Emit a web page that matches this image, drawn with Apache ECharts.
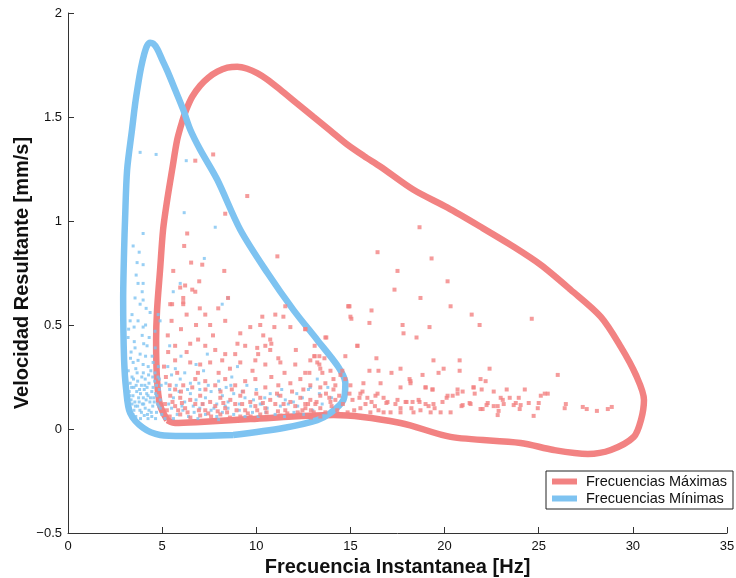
<!DOCTYPE html>
<html><head><meta charset="utf-8">
<script src="https://cdn.jsdelivr.net/npm/echarts@6/dist/echarts.min.js"></script>
<style>html,body{margin:0;padding:0;background:#fff}#c{width:736px;height:578px}</style>
</head><body><div id="c"></div>
<script>
const xTicks = [0,5,10,15,20,25,30,35];
const yTicks = [-0.5,0,0.5,1,1.5,2];
const seriesNames = ['Frecuencias Máximas','Frecuencias Mínimas'];

const maxCurve = [[5.27,0.043],[4.89,0.115],[4.73,0.236],[4.68,0.428],[4.73,0.573],[4.89,0.765],[5.05,0.958],[5.27,1.102],[5.53,1.246],[5.80,1.391],[6.06,1.477],[6.28,1.535],[6.60,1.598],[7.02,1.651],[7.45,1.689],[7.93,1.718],[8.46,1.737],[8.99,1.742],[9.52,1.732],[10.05,1.711],[10.59,1.680],[11.28,1.631],[12.15,1.566],[13.03,1.501],[13.94,1.434],[14.84,1.367],[15.72,1.312],[16.60,1.261],[18.35,1.150],[20.16,1.064],[21.91,0.972],[23.67,0.876],[25.11,0.789],[26.70,0.669],[28.30,0.539],[29.36,0.395],[30.16,0.260],[30.59,0.140],[30.43,0.043],[30.05,-0.038],[28.83,-0.101],[27.61,-0.120],[25.80,-0.101],[24.04,-0.067],[20.32,-0.038],[17.66,0.029],[14.10,0.067],[9.68,0.048],[7.02,0.034],[5.69,0.029],[5.27,0.043]];

const minCurve = [[8.78,-0.029],[6.12,-0.034],[4.89,-0.029],[3.99,0.005],[3.30,0.077],[3.09,0.188],[2.98,0.332],[2.93,0.621],[2.98,0.861],[3.03,1.006],[3.14,1.246],[3.40,1.439],[3.56,1.559],[3.72,1.655],[3.88,1.737],[4.04,1.800],[4.20,1.843],[4.36,1.857],[4.52,1.853],[4.73,1.829],[5.0,1.776],[5.27,1.723],[5.69,1.631],[6.12,1.535],[6.49,1.44],[7.02,1.343],[7.93,1.198],[9.15,0.958],[10.59,0.751],[11.97,0.573],[13.24,0.428],[14.36,0.298],[14.73,0.221],[14.63,0.140],[13.94,0.077],[13.24,0.043],[11.44,0.005],[8.78,-0.029]];

const maxPoints = [[6.76,1.29],[7.71,1.32],[9.52,1.12],[8.35,1.035],[6.33,0.94],[6.17,0.88],[11.12,0.83],[7.13,0.79],[6.54,0.80],[8.30,0.76],[5.59,0.76],[6.97,0.71],[5.96,0.68],[6.22,0.69],[6.60,0.67],[6.76,0.66],[6.12,0.63],[6.12,0.60],[5.53,0.60],[7.98,0.58],[8.50,0.63],[14.9,0.59],
[18.67,0.97],[16.44,0.85],[19.31,0.82],[17.5,0.76],[20.16,0.71],[17.34,0.67],[18.72,0.63],[14.95,0.59],[16.12,0.57],[20.32,0.59],[15.05,0.53],[21.44,0.55],[16.01,0.51],[17.77,0.50],[19.2,0.49],[21.86,0.50],[24.63,0.53],[17.82,0.46],[18.51,0.44],[13.72,0.44],[12.6,0.48],[15.37,0.40],[16.38,0.34],[14.73,0.35],[19.41,0.33],[20.8,0.33],[19.95,0.29],[19.68,0.27],[20.8,0.28],[22.39,0.29],[26.01,0.26],[16.01,0.28],[16.49,0.28],[17.18,0.27],[17.66,0.29],[18.83,0.26],[18.14,0.24],[18.19,0.22],[21.91,0.24],[22.18,0.23],[21.54,0.20],[21.6,0.17],[22.61,0.18],[21.97,0.19],[23.3,0.19],[24.26,0.19],[25.32,0.17],[20.69,0.19],[20.96,0.18],[20.43,0.16],[20.11,0.15],[19.36,0.19],[18.99,0.20],[22.98,0.15],[23.09,0.14],[23.46,0.15],[23.94,0.15],[24.47,0.125],[25.0,0.125],[23.78,0.125],[22.23,0.115],[21.33,0.125],[20.9,0.11],[22.61,0.11],[22.87,0.087],[21.91,0.096],[23.99,0.096],[24.95,0.10],[24.73,0.063],[22.82,0.067],[26.44,0.12],[26.38,0.10],[27.34,0.106],[27.55,0.096],[28.09,0.087],[28.67,0.096],[28.88,0.106],
[13.09,0.35],[13.35,0.35],[12.82,0.27],[13.24,0.32],[13.51,0.27],[13.67,0.22],[14.10,0.19],[13.88,0.15],[14.20,0.14],[14.73,0.24],[14.95,0.17],[15.11,0.14],[15.48,0.15],[15.64,0.18],[15.90,0.15],[16.12,0.13],[16.44,0.17],[16.76,0.15],[16.97,0.13],[17.39,0.12],[17.66,0.10],[17.98,0.13],[18.24,0.10],[18.67,0.13],[19.15,0.11],[19.47,0.10],[19.89,0.13],[20.32,0.08],[16.49,0.09],[17.13,0.08],[16.06,0.08],[15.53,0.10],
[15.69,0.22],[16.60,0.22],[17.66,0.20],[18.19,0.23],[18.99,0.20],[19.36,0.19],[20.16,0.16],[20.69,0.17],[21.54,0.20],[25.11,0.16],[15.53,0.17],[16.33,0.16],[16.91,0.125],[17.50,0.14],[17.93,0.13],[18.30,0.13],[18.62,0.14],[18.99,0.12],[19.41,0.12],[19.79,0.08],[20.96,0.115],[21.38,0.12],[22.02,0.096],[22.29,0.125],[22.82,0.11],[23.14,0.12],[23.67,0.115],[24.04,0.115],[25.48,0.17],[16.76,0.08],[17.66,0.08],[18.35,0.08],[18.72,0.09],[19.26,0.08],
[13.40,0.10],[13.67,0.08],[14.00,0.11],[14.30,0.09],[14.60,0.12],[14.85,0.08],[13.20,0.13],[12.90,0.09],[12.60,0.12],[12.20,0.08],[15.2,0.09],[15.8,0.12],[16.3,0.11],[14.4,0.16],[15.0,0.21],
[5.43,0.60],[6.12,0.61],[7.29,0.55],[7.55,0.50],[8.35,0.52],[9.15,0.46],[9.68,0.49],[10.21,0.50],[11.01,0.55],[11.44,0.54],[11.81,0.49],[10.74,0.43],[10.48,0.40],[10.74,0.38],[9.41,0.40],[8.88,0.36],[8.35,0.36],[7.82,0.38],[7.29,0.40],[6.91,0.43],[6.49,0.41],[5.69,0.40],[5.32,0.37],[5.69,0.33],[6.49,0.32],[7.02,0.31],[7.55,0.32],[8.19,0.33],[9.15,0.32],[9.95,0.33],[10.48,0.31],[11.28,0.32],[12.07,0.31],[12.87,0.33],[13.40,0.29],[13.94,0.28],[14.47,0.26],[14.20,0.21],[13.40,0.20],[12.87,0.21],[12.34,0.24],[11.81,0.22],[11.17,0.21],[10.48,0.20],[9.95,0.24],[9.41,0.23],[8.88,0.21],[8.35,0.24],[7.82,0.21],[7.29,0.23],[6.76,0.24],[6.12,0.21],[5.69,0.19],[5.43,0.16],
[5.96,0.15],[6.49,0.14],[7.02,0.16],[7.55,0.13],[8.09,0.15],[8.62,0.14],[9.15,0.16],[9.68,0.13],[10.21,0.15],[10.74,0.14],[11.28,0.16],[11.81,0.13],[12.34,0.15],[12.87,0.14],[13.40,0.16],[13.94,0.13],
[5.69,0.11],[6.22,0.10],[6.76,0.12],[7.29,0.09],[7.82,0.11],[8.35,0.10],[8.88,0.12],[9.41,0.09],[9.95,0.11],[10.48,0.10],[11.01,0.12],[11.54,0.09],[12.07,0.11],[12.61,0.10],[13.14,0.12],
[5.96,0.07],[7.02,0.065],[8.09,0.07],[9.15,0.06],[10.21,0.07],[11.28,0.065],[12.34,0.07],[13.40,0.06],[14.47,0.07],[5.4,0.06],[6.5,0.055],[7.6,0.06],[8.6,0.055],[9.7,0.06],[10.7,0.055],[11.8,0.06],[12.9,0.055],
[5.2,0.25],[5.3,0.45],[5.5,0.52],[6.0,0.48],[6.3,0.55],[6.8,0.50],[7.0,0.58],[7.7,0.45],[8.0,0.27],[8.6,0.29],[9.0,0.41],[9.8,0.28],[10.1,0.36],[11.5,0.27],[12.1,0.38],[12.6,0.27],[13.1,0.40],[5.1,0.30],[5.8,0.27],[6.3,0.37],[6.9,0.27],[7.3,0.19],[8.1,0.18],[8.7,0.19],[9.3,0.18],[10.0,0.17],[10.8,0.25],[11.1,0.17],[11.9,0.18],[12.5,0.19],[13.7,0.17],[14.1,0.24],[5.4,0.21],[6.0,0.18],[6.6,0.20],
[5.25,0.09],[5.55,0.13],[5.85,0.09],[6.35,0.08],[6.95,0.09],[7.45,0.075],[7.95,0.085],[8.45,0.08],[8.95,0.09],[9.55,0.075],[10.05,0.09],[10.55,0.08],[11.15,0.085],[11.65,0.075],[12.45,0.09],[13.05,0.08],[5.15,0.12],[6.05,0.125],[7.15,0.12],[8.25,0.125],[9.25,0.12],[10.35,0.125],[11.45,0.12],[12.75,0.12],
[11.54,0.59],[10.32,0.54],[10.96,0.49],[12.61,0.48],[10.37,0.45],[10.8,0.41],[13.67,0.44],[10.05,0.39],[11.17,0.34],[13.09,0.35],[13.62,0.34],[13.35,0.31],[14.57,0.28],[15.37,0.40],[15.0,0.54],[14.89,0.59]];

const minPoints = [[3.83,1.33],[4.68,1.32],[6.28,1.29],[6.17,1.04],[7.82,0.97],[3.99,0.94],[3.46,0.88],[3.78,0.85],[7.24,0.82],[3.67,0.80],[3.99,0.79],[3.62,0.74],[3.72,0.70],[5.96,0.70],[3.99,0.70],[3.94,0.66],[5.59,0.66],[3.56,0.63],[3.99,0.62],[8.50,0.63],[8.19,0.60],[3.83,0.60],[4.15,0.58],[4.36,0.56],[3.40,0.55],[3.30,0.52],[4.79,0.55],[4.89,0.52],[3.99,0.49],[3.51,0.49],[3.19,0.44],[3.94,0.45],[4.31,0.44],[4.63,0.39],[3.56,0.39],[4.20,0.40],[3.35,0.37],[3.83,0.36],[4.47,0.35],[3.46,0.32],[3.99,0.31],[4.26,0.30],[3.67,0.27],[3.40,0.25],
[3.3,0.22],[3.5,0.20],[3.7,0.23],[3.9,0.21],[4.1,0.24],[4.3,0.22],[4.5,0.25],[4.7,0.21],[4.85,0.24],
[3.25,0.18],[3.45,0.16],[3.65,0.18],[3.85,0.17],[4.05,0.19],[4.25,0.16],[4.45,0.18],[4.65,0.17],[4.85,0.19],
[3.35,0.14],[3.55,0.13],[3.75,0.15],[3.95,0.12],[4.15,0.14],[4.35,0.13],[4.55,0.15],[4.75,0.12],[4.9,0.14],
[3.3,0.10],[3.5,0.09],[3.7,0.11],[3.9,0.08],[4.1,0.10],[4.3,0.09],[4.5,0.11],[4.7,0.08],[4.9,0.10],
[3.6,0.06],[3.85,0.05],[4.05,0.065],[4.25,0.05],[4.45,0.06],[4.65,0.05],[3.45,0.07],
[3.2,0.28],[3.6,0.29],[4.0,0.27],[4.4,0.28],[4.8,0.30],[3.8,0.19],[4.2,0.20],[4.6,0.23],[3.4,0.12],[4.0,0.15],
[3.28,0.16],[3.38,0.20],[3.48,0.24],[3.58,0.11],[3.62,0.21],[3.78,0.13],[3.82,0.09],[3.92,0.25],[4.02,0.12],[4.08,0.21],[4.18,0.17],[4.22,0.07],[4.28,0.26],[4.38,0.15],[4.42,0.08],[4.52,0.20],[4.58,0.13],[4.62,0.27],[4.72,0.16],[4.78,0.25],[4.82,0.11],[4.95,0.21],[4.98,0.07],[3.32,0.34],[3.72,0.33],[4.12,0.35],[4.52,0.32],[3.52,0.42],[4.02,0.41],[4.62,0.47],[3.22,0.48],[3.72,0.52],[4.12,0.50],
[5.3,0.30],[5.5,0.26],[5.7,0.29],[5.96,0.24],[6.2,0.27],[6.5,0.22],[5.4,0.19],[5.6,0.15],[5.9,0.18],[6.2,0.13],[6.5,0.17],[6.8,0.14],[7.0,0.19],[7.3,0.15],[7.6,0.18],[7.9,0.12],[8.2,0.16],[8.5,0.13],[8.8,0.17],[9.1,0.12],[9.4,0.15],[9.7,0.11],[10.0,0.19],[10.3,0.12],[10.58,0.10],[10.74,0.17],[11.17,0.16],[11.54,0.14],[11.97,0.13],[12.45,0.15],[12.77,0.19],[12.87,0.20],[13.24,0.24],[10.21,0.12],[11.28,0.11],[11.70,0.12],[5.5,0.10],[5.8,0.07],[6.1,0.09],[6.4,0.06],[6.7,0.08],[7.0,0.10],[7.3,0.07],[7.6,0.09],[7.9,0.06],[8.2,0.08],[8.5,0.10],[8.8,0.07],[9.1,0.09],[9.4,0.06],[9.8,0.08],[10.1,0.06],[10.5,0.08],[11.0,0.07],[11.5,0.06],[12.0,0.08],[12.5,0.07],[13.0,0.09],[13.5,0.12],[14.0,0.15],[7.2,0.28],[8.0,0.23],[8.7,0.25],[9.5,0.21],[6.0,0.35],[6.8,0.31],[5.4,0.40],[7.4,0.36],[9.0,0.30],[8.4,0.20],[12.2,0.11],[13.8,0.20],
[5.2,0.22],[5.35,0.12],[5.75,0.21],[6.05,0.11],[6.35,0.19],[6.65,0.11],[6.95,0.22],[7.15,0.12],[7.45,0.21],[7.75,0.10],[8.05,0.19],[8.35,0.11],[8.65,0.21],[9.25,0.18],[9.85,0.14],[10.45,0.15],[11.35,0.19],[12.15,0.17],[13.35,0.17],[5.15,0.05],[5.6,0.05],[6.9,0.05],[8.0,0.045]];

const RED = '#F28282';
const BLUE = '#7EC3F1';
const FONT = 'Liberation Sans, Arial, sans-serif';
const chart = echarts.init(document.getElementById('c'), null, {renderer:'canvas'});
const axisTxt = {color:'#111', fontSize:13, fontFamily:FONT};
chart.setOption({
  animation:false,
  grid:{left:68, right:9, top:13, bottom:45, containLabel:false, outerBoundsMode:'none'},
  legend:{
    data:seriesNames, orient:'vertical', left:546, top:471,
    padding:[3,6,3,6], itemGap:2, itemWidth:25, itemHeight:6,
    backgroundColor:'#fff', borderColor:'#222', borderWidth:1, borderRadius:0,
    textStyle:{color:'#111', fontSize:14.5, fontFamily:FONT, padding:[0,0,0,4]},
    icon:'rect', selectedMode:false
  },
  xAxis:{
    type:'value', min:0, max:35, interval:5,
    name:'Frecuencia Instantanea [Hz]', nameLocation:'middle', nameGap:24, nameMoveOverlap:false,
    nameTextStyle:{fontSize:20, fontWeight:'bold', color:'#111', fontFamily:FONT},
    axisLine:{show:true, onZero:false, lineStyle:{color:'#333', width:1}},
    axisTick:{show:true, inside:true, length:6, lineStyle:{color:'#333'}},
    axisLabel:Object.assign({margin:7, formatter:v=>xTicks.includes(v)?String(v):''}, axisTxt),
    splitLine:{show:false}
  },
  yAxis:{
    type:'value', min:-0.5, max:2, interval:0.5,
    name:'Velocidad Resultante [mm/s]', nameLocation:'middle', nameGap:36, nameMoveOverlap:false,
    nameTextStyle:{fontSize:20, fontWeight:'bold', color:'#111', fontFamily:FONT},
    axisLine:{show:true, onZero:false, lineStyle:{color:'#333', width:1}},
    axisTick:{show:true, inside:true, length:6, lineStyle:{color:'#333'}},
    axisLabel:Object.assign({margin:6, formatter:v=>yTicks.includes(v)?String(v).replace('-', '\u2212'):''}, axisTxt),
    splitLine:{show:false}
  },
  series:[
    {name:seriesNames[0], type:'line', data:maxCurve, smooth:0.3, showSymbol:false, symbol:'none',
     lineStyle:{color:RED, width:6.5}, itemStyle:{color:RED}, z:2},
    {name:seriesNames[1], type:'line', data:minCurve, smooth:0.3, showSymbol:false, symbol:'none',
     lineStyle:{color:BLUE, width:6.5}, itemStyle:{color:BLUE}, z:3},
    {name:'min-pts', type:'scatter', data:minPoints, symbol:'rect', symbolSize:3,
     itemStyle:{color:BLUE}, z:4, silent:true},
    {name:'max-pts', type:'scatter', data:maxPoints, symbol:'rect', symbolSize:4,
     itemStyle:{color:RED}, z:5, silent:true}
  ]
});
</script>
</body></html>
